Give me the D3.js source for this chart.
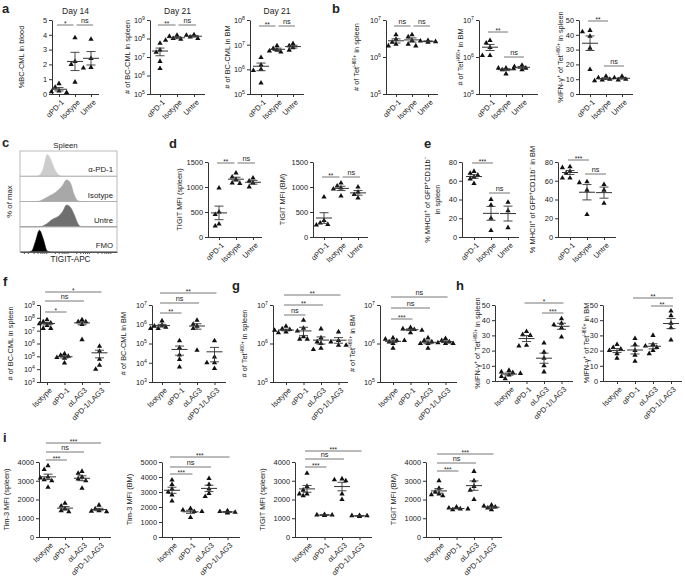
<!DOCTYPE html>
<html><head><meta charset="utf-8">
<script src="https://cdn.jsdelivr.net/npm/d3@7"></script>
<style>body{margin:0;background:#fff}svg{display:block}text{font-family:"Liberation Sans",Arial,sans-serif;fill:#222}</style>
</head><body><svg id="c" width="685" height="576"></svg>
<script>
// ---------------- categories ----------------
const catsA = ["αPD-1", "Isotype", "Untre"];
const catsF = ["Isotype", "αPD-1", "αLAG3", "αPD-1/LAG3"];

// ---------------- panel a ----------------
const bloodDay14 = [[0.7, 0.45, 0.2, 0.1, 0.15], [3.8, 2.2, 2.0, 0.8], [3.7, 2.4, 1.8, 1.75]];
const spleenBCDay21 = [[5.5e7, 2.4e7, 1.8e7, 5.8e6, 2.4e6], [1.5e8, 1.3e8, 1.0e8, 9e7, 8e7], [1.6e8, 1.5e8, 1.2e8, 1.0e8]];
const bmBCDay21 = [[3e6, 1.5e6, 1e6, 9e5, 2.8e5], [9e6, 7e6, 6e6, 5.5e6, 5e6], [1.1e7, 9e6, 7.5e6, 6e6]];
// ---------------- panel b ----------------
const tetSpleenB = [[4e6, 3e6, 2.5e6, 2.2e6, 2e6], [4e6, 3.5e6, 2.8e6, 2.2e6, 2e6], [2.8e6, 2.7e6, 2.6e6, 2.5e6]];
const tetBMB = [[2.8e6, 2.4e6, 1.8e6, 1.1e6, 1.1e6], [5e5, 5e5, 4.8e5, 4.5e5, 3.5e5], [6e5, 5.5e5, 5e5, 4.5e5]];
const ifnSpleenB = [[43, 42, 39, 31, 16.5], [12, 11, 10, 9.5, 9], [12, 11, 10, 9.5]];
// ---------------- panel c (histograms, % of max) ----------------
const histBins = [0, 4, 8, 12, 16, 20, 24, 28, 32, 36, 40, 44, 48, 52, 56, 60, 64, 68, 72, 100];
const histRows = ["α-PD-1", "Isotype", "Untre", "FMO"];
const histPD1 = [0, 0, 0, 0, 0, 0.05, 0.35, 1.0, 0.75, 0.3, 0.06, 0, 0, 0, 0, 0, 0, 0, 0, 0];
const histIso = [0, 0, 0, 0, 0, 0.02, 0.1, 0.2, 0.3, 0.4, 0.55, 0.75, 1.0, 0.85, 0.3, 0.03, 0, 0, 0, 0];
const histUntre = [0, 0, 0, 0, 0, 0, 0.05, 0.15, 0.3, 0.4, 0.5, 0.7, 1.0, 0.9, 0.55, 0.12, 0, 0, 0, 0];
const histFMO = [0, 0, 0, 0.05, 0.5, 1.0, 0.6, 0.05, 0, 0, 0, 0, 0, 0, 0, 0, 0, 0, 0, 0];
const histTicks = [4, 8, 14, 18, 21, 23, 25, 27, 36, 40, 43, 45, 47, 49, 58, 62, 65, 67, 69, 71, 80, 84, 87, 89, 91, 93];
// ---------------- panel d ----------------
const tigitSpleenD = [[980, 500, 450, 260, 220], [1280, 1200, 1150, 1080, 1070], [1180, 1120, 1080, 1000]];
const tigitBMD = [[800, 330, 280, 250, 240], [1080, 1020, 980, 960, 820], [1000, 900, 850, 780]];
// ---------------- panel e ----------------
const mhcSpleenE = [[70, 68, 66, 64, 62, 57], [40, 34, 20, 7], [37, 28, 10]];
const mhcBME = [[75, 74, 70, 68, 63, 63], [59, 58, 50, 24], [56, 50, 36]];
// ---------------- panel f ----------------
const bcSpleenF = [[7e7, 5e7, 4e7, 3.5e7, 2.5e7, 1.5e7, 1.5e7], [1.6e5, 1.2e5, 1e5, 8e4, 7e4, 3e4], [7e7, 5e7, 5e7, 3e7, 2e6], [6e5, 2.5e5, 6e4, 2e4, 1e4]];
const bcBMF = [[1.5e6, 9e5, 8e5, 7e5, 6e5, 6e5], [1.4e5, 6e4, 2.5e4, 1.5e4, 6e3], [1.6e6, 1e6, 8e5, 6e5, 4.5e4], [1.4e5, 2e4, 1e4, 1e4, 5e3]];
// ---------------- panel g ----------------
const tetSpleenG = [[2.8e6, 2.4e6, 2.3e6, 2.2e6, 2.1e6, 2e6, 1.9e6], [4e6, 2.5e6, 1.5e6, 1.3e6, 1.3e6], [2.4e6, 1.4e6, 1.1e6, 1e6, 7.5e5, 7e5], [2e6, 1.2e6, 1.1e6, 9e5, 9e5]];
const tetBMG = [[1.4e6, 1.3e6, 1.2e6, 1.2e6, 1.1e6, 1e6, 7.5e5], [2.6e6, 2.4e6, 2.3e6, 2.2e6, 1.9e6], [1.4e6, 1.2e6, 1.1e6, 1e6, 1e6, 7.5e5], [1.35e6, 1.2e6, 1.1e6, 1.05e6, 1e6, 1e6]];
// ---------------- panel h ----------------
const ifnSpleenH = [[7, 6, 5.5, 5, 4, 3, 1.5], [32.5, 30.5, 30, 23.5, 23], [25, 19, 15, 10, 6], [41, 38, 37, 35, 29]];
const ifnBMH = [[24, 22, 21, 20, 18, 15], [28, 24, 20, 17, 13], [30, 24, 23, 22, 20, 18], [46, 43, 38, 35, 27]];
// ---------------- panel i ----------------
const tim3SpleenI = [[3800, 3600, 3200, 3150, 3050, 3000, 2650], [1800, 1650, 1500, 1400, 1350], [3500, 3400, 3200, 3100, 3000, 2600], [1700, 1500, 1400, 1380, 1350]];
const tim3BMI = [[3800, 3500, 3200, 3000, 2800, 2400], [1900, 1800, 1700, 1700, 1300], [3900, 3500, 3200, 2900, 2700], [1750, 1700, 1650, 1650, 1600]];
const tigitSpleenI = [[3400, 2700, 2500, 2300, 2300, 2200], [1200, 1180, 1170, 1160, 1150], [3100, 3050, 3000, 2300, 2000], [1150, 1140, 1130, 1120, 1100]];
const tigitBMI = [[3000, 2600, 2400, 2300, 2250, 2200], [1600, 1550, 1500, 1500, 1450], [3500, 3000, 2700, 2500, 2000], [1700, 1650, 1600, 1550, 1450]];

// ---------------- significance labels ----------------
const sigA = [["αPD-1", "Isotype", "*"], ["Isotype", "Untre", "ns"]];
const sigA2 = [["αPD-1", "Isotype", "**"], ["Isotype", "Untre", "ns"]];
const sigB1 = [["αPD-1", "Isotype", "ns"], ["Isotype", "Untre", "ns"]];
const sigB2 = [["αPD-1", "Isotype", "**"], ["Isotype", "Untre", "ns"]];
const sigE = [["αPD-1", "Isotype", "***"], ["Isotype", "Untre", "ns"]];
const sigF1 = [["Isotype", "αPD-1", "*"], ["Isotype", "αLAG3", "ns"], ["Isotype", "αPD-1/LAG3", "*"]];
const sigF2 = [["Isotype", "αPD-1", "**"], ["Isotype", "αLAG3", "ns"], ["Isotype", "αPD-1/LAG3", "**"]];
const sigG1 = [["Isotype", "αPD-1", "ns"], ["Isotype", "αLAG3", "**"], ["Isotype", "αPD-1/LAG3", "**"]];
const sigG2 = [["Isotype", "αPD-1", "***"], ["Isotype", "αLAG3", "ns"], ["Isotype", "αPD-1/LAG3", "ns"]];
const sigH1 = [["αPD-1", "αPD-1/LAG3", "*"], ["αLAG3", "αPD-1/LAG3", "***"]];
const sigH2 = [["αPD-1", "αPD-1/LAG3", "**"], ["αLAG3", "αPD-1/LAG3", "**"]];
const sigI = [["Isotype", "αPD-1", "***"], ["Isotype", "αLAG3", "ns"], ["Isotype", "αPD-1/LAG3", "***"]];

// ---------------- tick values ----------------
const ticks0to5 = [0, 1, 2, 3, 4, 5];
const ticks0to50 = [0, 10, 20, 30, 40, 50];
const ticks0to1500 = [0, 500, 1000, 1500];
const ticks0to80 = [0, 20, 40, 60, 80];
const ticks0to4000 = [0, 1000, 2000, 3000, 4000];
const ticks0to5000 = [0, 1000, 2000, 3000, 4000, 5000];

// ---------------- labels ----------------
const lblTetSpleen = ["# of Tet", ["H60+"], " in spleen"];
const lblTetBM = ["# of Tet", ["H60+"], " in BM"];
const lblIfnSpleen = ["%IFN-γ", ["+"], " of Tet", ["H60+"], " in spleen"];
const lblIfnBM = ["%IFN-γ", ["+"], " of Tet", ["H60+"], " in BM"];
const lblMhc = ["% MHCII", ["+"], " of GFP", ["+"], "CD11b", ["−"]];

const svg = d3.select("#c");
const FS = 7.4;
const AXC = "#333";

function rich(t, segs, fs) {
  let up = false;
  segs.forEach(s => {
    const isSup = Array.isArray(s);
    const ts = t.append("tspan").text(isSup ? s[0] : s);
    if (isSup) { ts.attr("font-size", fs * 0.68); if (!up) ts.attr("dy", -fs * 0.38); up = true; }
    else { if (up) ts.attr("dy", fs * 0.38); up = false; }
  });
}
function styleAxis(g) {
  g.select(".domain").attr("stroke", AXC).attr("stroke-width", 1);
  g.selectAll(".tick line").attr("stroke", AXC);
  g.selectAll(".tick text").attr("font-size", FS).attr("fill", "#222").attr("font-family", null);
}
function swarm(vals, cx, y) {
  const pts = vals.map(v => ({ v, py: y(v) })).sort((a, b) => a.py - b.py);
  const placed = [];
  const offs = [0, -3.8, 3.8, -7.6, 7.6, -11.4, 11.4];
  pts.forEach(d => {
    for (const o of offs) {
      if (placed.every(q => Math.hypot(q.px - (cx + o), q.py - d.py) >= 4.1)) { d.px = cx + o; break; }
    }
    if (d.px === undefined) d.px = cx;
    placed.push(d);
  });
  return placed;
}

function plot(p) {
  const g = svg.append("g");
  const y = (p.log ? d3.scaleLog() : d3.scaleLinear()).domain(p.dom).range([p.yb, p.yt]);
  const xs = d3.scalePoint().domain(p.cats).range([p.x0 + p.off, p.x0 + p.off + p.step * (p.cats.length - 1)]);
  const ya = d3.axisLeft(y).tickSize(3).tickSizeOuter(0).tickPadding(2);
  if (p.log) {
    const e0 = Math.round(Math.log10(p.dom[0])), e1 = Math.round(Math.log10(p.dom[1]));
    ya.tickValues(d3.range(e0, e1 + 1).map(e => Math.pow(10, e)));
  } else ya.tickValues(p.ticks).tickFormat(d3.format("d"));
  const yg = g.append("g").attr("transform", `translate(${p.x0},0)`).call(ya);
  styleAxis(yg);
  if (p.log) {
    yg.selectAll(".tick text").each(function (d) {
      const t = d3.select(this);
      const e = Math.round(Math.log10(d));
      t.text(null);
      t.append("tspan").text("10");
      t.append("tspan").attr("dy", -3).attr("font-size", 5.2).text(e);
    });
  }
  const xg = g.append("g").attr("transform", `translate(0,${p.yb})`).call(d3.axisBottom(xs).tickSize(3).tickSizeOuter(0));
  xg.select(".domain").attr("d", `M${p.x0},0.5H${p.x1}`);
  styleAxis(xg);
  xg.selectAll(".tick text").attr("y", 0).attr("dy", "0.35em").attr("text-anchor", "end")
    .attr("transform", "translate(3,7) rotate(-45)").attr("font-size", 7.5);

  // points
  p.cats.forEach((c, i) => {
    const vals = p.vals[i];
    const cx = xs(c);
    const pts = swarm(vals, cx, y);
    g.selectAll(null).data(pts).join("path")
      .attr("d", d3.symbol(d3.symbolTriangle, 12))
      .attr("transform", d => `translate(${d.px},${d.py})`)
      .attr("fill", "#111");
    const m = d3.mean(vals), se = d3.deviation(vals) / Math.sqrt(vals.length);
    const lo = Math.max(m - se, p.dom[0]), hi = m + se;
    const lc = "#333";
    g.append("line").attr("x1", cx).attr("x2", cx).attr("y1", y(lo)).attr("y2", y(hi)).attr("stroke", lc).attr("stroke-width", 0.9);
    g.append("line").attr("x1", cx - 8).attr("x2", cx + 8).attr("y1", y(m)).attr("y2", y(m)).attr("stroke", lc).attr("stroke-width", 1);
    [lo, hi].forEach(v => g.append("line").attr("x1", cx - 4.5).attr("x2", cx + 4.5).attr("y1", y(v)).attr("y2", y(v)).attr("stroke", lc).attr("stroke-width", 0.9));
  });

  // significance bars
  p.sig.forEach(([a, b, lab], k) => {
    const yy = p.sigY[k];
    let x1 = xs(a) - 2, x2 = xs(b) + 2;
    p.sig.forEach(([a2, b2], k2) => {
      if (k2 !== k && p.sigY[k2] === yy) {
        if (b2 === a) x1 = xs(a) + 1.5;
        if (a2 === b) x2 = xs(b) - 1.5;
      }
    });
    g.append("line").attr("x1", x1).attr("x2", x2).attr("y1", yy).attr("y2", yy).attr("stroke", "#777").attr("stroke-width", 1);
    g.append("text").attr("x", (x1 + x2) / 2).attr("y", lab === "ns" ? yy - 2 : yy + 1)
      .attr("text-anchor", "middle").attr("font-size", lab === "ns" ? 7.3 : 6.5).attr("fill", "#444").text(lab);
  });

  // y label
  const cy = (p.yt + p.yb) / 2;
  p.labels.forEach((segs, li) => {
    const t = g.append("text").attr("transform", `translate(${p.lx + li * 10},${cy}) rotate(-90)`)
      .attr("text-anchor", "middle").attr("font-size", FS);
    rich(t, segs, FS);
  });
  if (p.title) g.append("text").attr("x", (p.x0 + p.x1) / 2).attr("y", p.yt - 6).attr("text-anchor", "middle").attr("font-size", 8.5).text(p.title);
}

const plots = [
  { x0: 52, x1: 99, off: 7, step: 16, yt: 20, yb: 94, dom: [0, 5], ticks: ticks0to5, cats: catsA, vals: bloodDay14, sig: sigA, sigY: [25, 25], lx: 24, labels: [["%BC-CML in blood"]], title: "Day 14" },
  { x0: 150, x1: 205, off: 10, step: 17, yt: 20, yb: 94, log: true, dom: [1e5, 1e9], cats: catsA, vals: spleenBCDay21, sig: sigA2, sigY: [25, 25], lx: 130, labels: [["# of BC-CML in spleen"]], title: "Day 21" },
  { x0: 250, x1: 304, off: 11, step: 16, yt: 20, yb: 94, log: true, dom: [1e5, 1e8], cats: catsA, vals: bmBCDay21, sig: sigA2, sigY: [26, 26], lx: 230, labels: [["# of BC-CML in BM"]], title: "Day 21" },
  { x0: 386, x1: 438, off: 10, step: 16, yt: 20, yb: 94, log: true, dom: [1e5, 1e7], cats: catsA, vals: tetSpleenB, sig: sigB1, sigY: [26, 26], lx: 359, labels: [lblTetSpleen] },
  { x0: 479, x1: 538, off: 11, step: 16, yt: 20, yb: 94, log: true, dom: [1e5, 1e7], cats: catsA, vals: tetBMB, sig: sigB2, sigY: [32, 57], lx: 463, labels: [lblTetBM] },
  { x0: 579, x1: 633, off: 11, step: 16, yt: 20, yb: 94, dom: [0, 50], ticks: ticks0to50, cats: catsA, vals: ifnSpleenB, sig: sigB2, sigY: [21, 66], lx: 563, labels: [lblIfnSpleen] },

  { x0: 208, x1: 262, off: 11, step: 17, yt: 162, yb: 237, dom: [0, 1500], ticks: ticks0to1500, cats: catsA, vals: tigitSpleenD, sig: sigA2, sigY: [163, 163], lx: 182, labels: [["TIGIT MFI (spleen)"]] },
  { x0: 313, x1: 368, off: 11, step: 17, yt: 162, yb: 237, dom: [0, 1500], ticks: ticks0to1500, cats: catsA, vals: tigitBMD, sig: sigA2, sigY: [177, 177], lx: 285, labels: [["TIGIT MFI (BM)"]] },
  { x0: 462, x1: 519, off: 12, step: 17, yt: 162, yb: 237, dom: [0, 80], ticks: ticks0to80, cats: catsA, vals: mhcSpleenE, sig: sigE, sigY: [163, 193], lx: 430, labels: [lblMhc, ["in spleen"]] },
  { x0: 558, x1: 616, off: 12, step: 17, yt: 162, yb: 237, dom: [0, 80], ticks: ticks0to80, cats: catsA, vals: mhcBME, sig: sigE, sigY: [160, 174], lx: 535, labels: [lblMhc.concat([" in BM"])] },

  { x0: 40, x1: 110, off: 7, step: 17.5, yt: 305, yb: 382, log: true, dom: [1e3, 1e9], cats: catsF, vals: bcSpleenF, sig: sigF1, sigY: [312, 301, 292], lx: 13, labels: [["# of BC-CML in spleen"]] },
  { x0: 152, x1: 226, off: 10, step: 17.5, yt: 305, yb: 382, log: true, dom: [1e3, 1e7], cats: catsF, vals: bcBMF, sig: sigF2, sigY: [313, 303, 293], lx: 126, labels: [["# of BC-CML in BM"]] },
  { x0: 273, x1: 348, off: 13, step: 17.5, yt: 305, yb: 382, log: true, dom: [1e5, 1e7], cats: catsF, vals: tetSpleenG, sig: sigG1, sigY: [315, 305, 295], lx: 247, labels: [lblTetSpleen] },
  { x0: 380, x1: 457, off: 13, step: 17.5, yt: 305, yb: 382, log: true, dom: [1e5, 1e7], cats: catsF, vals: tetBMG, sig: sigG2, sigY: [319, 308, 297], lx: 355, labels: [lblTetBM] },
  { x0: 495, x1: 573, off: 14, step: 17.5, yt: 305, yb: 381, dom: [0, 50], ticks: ticks0to50, cats: catsF, vals: ifnSpleenH, sig: sigH1, sigY: [303, 313], lx: 480, labels: [lblIfnSpleen] },
  { x0: 603, x1: 682, off: 14, step: 18, yt: 305, yb: 381, dom: [0, 50], ticks: ticks0to50, cats: catsF, vals: ifnBMH, sig: sigH2, sigY: [298, 306], lx: 589, labels: [lblIfnBM] },

  { x0: 39, x1: 111, off: 9, step: 17, yt: 462, yb: 537, dom: [0, 4000], ticks: ticks0to4000, cats: catsF, vals: tim3SpleenI, sig: sigI, sigY: [460, 452, 443], lx: 9, labels: [["Tim-3 MFI (spleen)"]] },
  { x0: 162, x1: 240, off: 10, step: 18.5, yt: 462, yb: 537, dom: [0, 5000], ticks: ticks0to5000, cats: catsF, vals: tim3BMI, sig: sigI, sigY: [474, 467, 457], lx: 132, labels: [["Tim-3 MFI (BM)"]] },
  { x0: 295, x1: 372, off: 12, step: 17.5, yt: 462, yb: 537, dom: [0, 4000], ticks: ticks0to4000, cats: catsF, vals: tigitSpleenI, sig: sigI, sigY: [467, 459, 451], lx: 265, labels: [["TIGIT MFI (spleen)"]] },
  { x0: 426, x1: 502, off: 13, step: 17.5, yt: 462, yb: 537, dom: [0, 4000], ticks: ticks0to4000, cats: catsF, vals: tigitBMI, sig: sigI, sigY: [471, 463, 454], lx: 396, labels: [["TIGIT MFI (BM)"]] }
];
plots.forEach(plot);

// ---------------- panel c : histogram overlay ----------------
(function () {
  const bx0 = 20, bx1 = 117, by0 = 151, by1 = 252;
  const g = svg.append("g");
  const hx = d3.scaleLinear().domain([0, 100]).range([bx0, bx1]);
  const rowH = (by1 - by0) / histRows.length;
  const series = [histPD1, histIso, histUntre, histFMO];
  const fills = ["#cdcdcd", "#a8a8a8", "#6f6f6f", "#000"];
  g.append("clipPath").attr("id", "hclip").append("rect").attr("x", bx0).attr("y", by0).attr("width", bx1 - bx0).attr("height", by1 - by0);
  series.forEach((s, r) => {
    const base = by0 + rowH * (r + 1);
    const hy = d3.scaleLinear().domain([0, 1]).range([base, base - rowH * 0.86]);
    const area = d3.area().x((d, i) => hx(histBins[i])).y0(base).y1(d => hy(d)).curve(d3.curveMonotoneX);
    g.append("path").attr("d", area(s)).attr("fill", fills[r]).attr("stroke", fills[r]).attr("stroke-width", 0.5).attr("clip-path", "url(#hclip)");
    g.append("text").attr("x", bx1 - 4).attr("y", base - 4).attr("text-anchor", "end").attr("font-size", 7.8).text(histRows[r]);
  });
  for (let r = 1; r < histRows.length; r++) {
    g.append("line").attr("x1", bx0).attr("x2", bx1).attr("y1", by0 + rowH * r).attr("y2", by0 + rowH * r).attr("stroke", "#aaa").attr("stroke-width", 0.8);
  }
  g.append("rect").attr("x", bx0).attr("y", by0).attr("width", bx1 - bx0).attr("height", by1 - by0).attr("fill", "none").attr("stroke", "#aaa").attr("stroke-width", 0.8);
  const xg = g.append("g").attr("transform", `translate(0,${by1})`).call(d3.axisBottom(hx).tickValues(histTicks).tickSize(2).tickSizeOuter(0).tickFormat(""));
  xg.select(".domain").attr("stroke", "#555");
  xg.selectAll(".tick line").attr("stroke", "#555");
  g.append("text").attr("x", (bx0 + bx1) / 2 + 2).attr("y", 262).attr("text-anchor", "middle").attr("font-size", 8.2).text("TIGIT-APC");
  g.append("text").attr("x", (bx0 + bx1) / 2 - 3).attr("y", 148).attr("text-anchor", "middle").attr("font-size", 7.8).text("Spleen");
  g.append("text").attr("transform", `translate(12,${(by0 + by1) / 2}) rotate(-90)`).attr("text-anchor", "middle").attr("font-size", 7.8).text("% of max");
})();

// ---------------- panel letters ----------------
const letters = [["a", 2, 13], ["b", 332, 13], ["c", 2, 147], ["d", 169, 148], ["e", 424, 148], ["f", 3, 286], ["g", 232, 290], ["h", 456, 290], ["i", 3, 442]];
svg.selectAll(null).data(letters).join("text")
  .attr("x", d => d[1]).attr("y", d => d[2]).attr("font-size", 13).attr("font-weight", "bold").attr("fill", "#111").text(d => d[0]);
</script></body></html>
